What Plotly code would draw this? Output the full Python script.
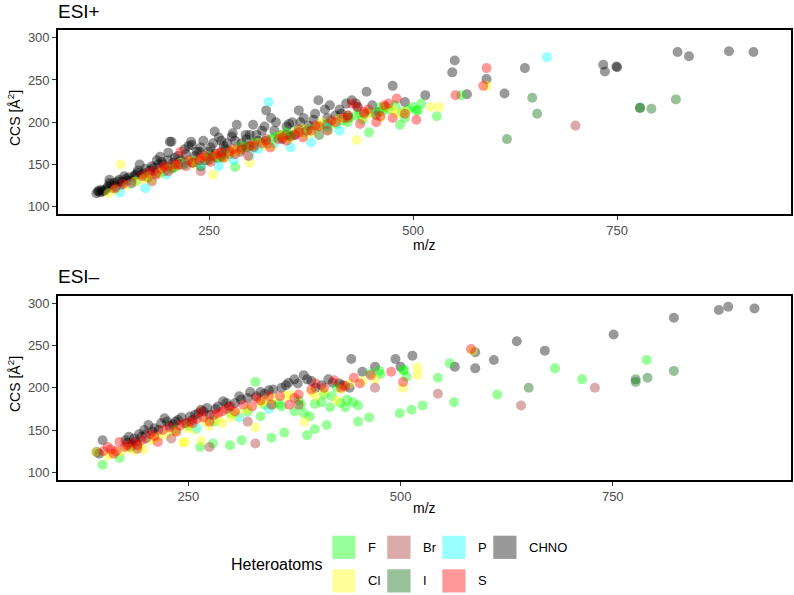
import plotly.graph_objects as go

W, H = 794, 595

# ---------------- data (m/z, CCS) ----------------
CLASSES = ["CHNO", "F", "Cl", "Br", "I", "P", "S"]
COLORS = {"F": "#00FF00", "Cl": "#FFFF00", "Br": "#A52A2A", "I": "#006400",
          "P": "#00FFFF", "S": "#FF0000", "CHNO": "#000000"}
LEGEND_SWATCH = {"F": "#99FF99", "Cl": "#FFFF99", "Br": "#DBAAAA", "I": "#99C199",
                 "P": "#99FFFF", "S": "#FF9999", "CHNO": "#999999"}

# ESI+
pos_chno_mz = [112,115,118,120,124,128,132,138,142,148,152,155,160,165,170,175,178,182,185,186,190,194,195,198,202,205,206,210,215,218,220,225,229,230,233,238,243,245,248,252,258,260,262,268,272,275,278,284,288,290,296,300,304,305,310,315,320,322,326,332,338,340,345,352,355,360,366,372,378,384,392,398,405,412,418,425,432,443,450,458,466,475,490,515,548,551,566,590,612,637,733,735,749,750,824,838,887,917,204,228,257,279,163,128,200,
               114,117,122,126,130,134,136,140,144,146,150,158,162,168,172,180,188,192,200,208,212,222,235,240,250,255,265,270,282,295,308,318,330,348,362,380,395,410,430]
pos_chno_ccs = [116,119,120,118,121,128,122,130,126,133,135,131,138,150,140,135,143,146,140,155,159,150,142,145,177,146,152,148,155,150,168,172,173,152,160,165,178,155,158,170,163,158,182,172,175,162,183,197,165,175,180,185,197,170,178,190,214,175,205,200,185,180,195,200,185,214,205,196,203,226,215,220,208,210,222,226,218,236,220,212,218,243,224,232,259,273,233,251,234,264,268,260,266,265,283,278,284,283,177,177,189,187,143,132,164,
                118,117,119,124,126,128,124,132,130,136,131,136,140,138,145,148,150,153,155,158,160,162,165,170,165,175,178,168,178,185,185,195,190,198,200,210,205,215,222]

pos_s_mz = [135,145,155,168,175,185,192,200,208,215,222,230,238,245,252,260,268,275,282,290,298,305,315,325,335,345,355,365,375,385,395,405,415,425,432,435,445,455,465,475,480,490,504,552,586,590,
            182,195,212,225,240,255,265,280,300,320,340,360,380,400,420,440,460,470]
pos_s_ccs = [122,127,128,136,140,138,145,142,150,165,148,152,155,160,153,162,158,165,162,168,160,172,175,170,180,178,185,182,190,195,190,200,205,222,218,198,215,200,220,205,228,210,203,232,243,264,
             142,148,150,155,158,160,164,168,172,178,182,188,196,202,208,212,207,222]

pos_cl_mz = [127,142,150,160,170,180,190,200,210,218,226,235,245,255,262,270,278,285,293,300,310,318,328,338,348,358,368,378,388,400,420,431,445,460,475,490,522,532,590,
             135,175,195,215,240,260,280,305,325,345,365,385,410,440,465,480]
pos_cl_ccs = [116,150,125,130,133,132,140,145,148,150,154,150,157,138,160,158,163,165,170,152,175,172,172,185,180,190,185,188,200,198,205,179,210,206,215,212,218,218,243,
              120,136,143,152,156,162,167,172,176,182,192,196,204,206,218,210]

pos_f_mz = [160,175,190,205,220,235,248,258,268,276,282,285,294,302,310,318,326,335,342,350,358,366,374,382,390,396,398,406,414,422,430,438,446,446,454,462,470,478,484,486,494,500,504,506,510,529,559,
            200,230,250,265,290,305,330,345,370,395,420,435,460,490]
pos_f_ccs = [130,135,140,145,150,152,155,158,162,165,147,168,170,172,175,178,180,183,185,185,190,188,192,195,196,191,200,198,202,205,208,203,188,212,210,213,215,220,197,212,215,218,214,214,222,207,232,
             146,154,160,158,172,176,182,188,190,196,200,210,218,205]

pos_br_mz = [180,215,240,265,290,320,345,370,395,420,455,699,200,250,305,360,440]
pos_br_ccs = [130,150,142,165,170,180,185,190,198,205,208,196,147,155,175,192,210]

pos_p_mz = [141,172,198,240,262,280,300,323,350,375,410,664,155,220,310,330,395]
pos_p_ccs = [117,122,138,150,148,155,160,224,170,176,190,277,127,150,168,175,194]

pos_i_mz = [240,265,296,385,615,646,652,778,778,792,822,220,350,420]
pos_i_ccs = [148,160,170,185,180,229,210,217,217,216,227,152,183,208]

# ESI-
neg_chno_mz = [142,149,178,182,186,190,195,200,203,208,215,222,228,235,242,248,255,262,268,275,282,291,298,305,312,323,330,340,350,360,368,379,386,390,400,407,420,432,440,442,455,470,494,500,514,564,588,588,610,637,670,751,822,875,886,917,
               145,176,180,184,188,192,198,210,218,225,232,238,252,258,265,272,285,295,310,320,335,345,365,375,395,415,428]
neg_chno_ccs = [124,138,135,130,140,133,142,145,156,148,150,164,155,160,165,158,162,170,172,168,175,184,178,182,186,195,190,193,198,200,206,205,215,210,200,203,206,203,200,234,219,225,234,225,238,225,242,223,233,255,244,263,283,292,296,294,
                122,138,142,132,136,145,150,152,158,160,157,162,166,168,174,176,178,182,190,188,195,197,203,210,208,210,205]

neg_s_mz = [150,159,162,169,175,185,195,205,214,220,228,236,245,252,260,268,275,285,295,305,315,325,335,348,358,369,380,395,410,422,435,452,465,489,503,583,
            155,165,178,190,200,210,240,255,265,280,290,300,330,345,375,400,430,445]
neg_s_ccs = [125,127,122,136,130,135,138,145,136,150,153,148,158,160,163,165,160,170,175,172,180,178,185,180,190,180,192,198,200,209,202,205,215,219,207,246,
             130,125,132,132,140,143,155,158,172,168,172,178,188,190,188,205,200,212]

neg_cl_mz = [141,155,170,187,197,210,225,244,246,258,265,275,290,300,310,320,329,335,350,365,387,395,410,425,440,470,503,520,520,585,
             160,180,192,205,215,235,250,270,285,305,340,370,400,430,455]
neg_cl_ccs = [124,120,125,126,127,140,145,135,136,150,137,155,158,165,170,175,153,182,188,190,160,195,196,185,205,210,200,224,215,244,
              122,128,130,138,142,148,152,160,162,168,185,192,190,198,208]

neg_f_mz = [149,169,235,250,264,279,299,313,329,335,348,350,357,363,375,383,386,390,393,399,399,407,413,417,419,429,435,437,444,450,450,463,464,476,475,499,503,504,507,513,526,544,558,563,614,682,714,790,
            280,300,320,340,360,380,410,425]
neg_f_ccs = [109,117,150,155,130,134,132,138,207,166,141,180,181,147,172,180,170,144,166,151,181,183,156,177,190,182,177,186,183,179,160,165,217,216,220,170,221,221,213,174,179,212,229,183,192,223,210,233,
             160,170,172,180,178,185,192,200]

neg_br_mz = [190,230,275,320,329,380,470,544,642,729]
neg_br_ccs = [128,140,130,160,134,180,200,193,179,200]

neg_p_mz = [200,260,310,345]
neg_p_ccs = [140,152,165,175]

neg_i_mz = [651,777,777,791,822]
neg_i_ccs = [200,210,207,212,220]

POS = {"CHNO": (pos_chno_mz, pos_chno_ccs), "F": (pos_f_mz, pos_f_ccs), "Cl": (pos_cl_mz, pos_cl_ccs),
       "Br": (pos_br_mz, pos_br_ccs), "I": (pos_i_mz, pos_i_ccs), "P": (pos_p_mz, pos_p_ccs),
       "S": (pos_s_mz, pos_s_ccs)}
NEG = {"CHNO": (neg_chno_mz, neg_chno_ccs), "F": (neg_f_mz, neg_f_ccs), "Cl": (neg_cl_mz, neg_cl_ccs),
       "Br": (neg_br_mz, neg_br_ccs), "I": (neg_i_mz, neg_i_ccs), "P": (neg_p_mz, neg_p_ccs),
       "S": (neg_s_mz, neg_s_ccs)}

x_ticks = [250, 500, 750]
y_ticks = [100, 150, 200, 250, 300]
legend_rows = [["F", "Br", "P", "CHNO"], ["Cl", "I", "S"]]

FONT = "Liberation Sans, Arial, Helvetica, sans-serif"

def px(x):
    return x / W

def py(y):
    return 1 - y / H

fig = go.Figure()
for panel, (xa, ya) in [(POS, ("x", "y")), (NEG, ("x2", "y2"))]:
    for cls in CLASSES:
        mz, ccs = panel[cls]
        fig.add_trace(go.Scatter(
            x=mz, y=ccs, mode="markers", xaxis=xa, yaxis=ya, name=cls, showlegend=False,
            marker=dict(size=10, color=COLORS[cls], opacity=0.4, line=dict(width=0)),
        ))

axis_common = dict(showline=True, linecolor="black", linewidth=1.6, mirror=True,
                   ticks="outside", ticklen=4, tickwidth=1, tickcolor="#333333",
                   showgrid=False, zeroline=False,
                   tickfont=dict(family=FONT, size=13, color="#4D4D4D"))

fig.update_layout(
    width=W, height=H, margin=dict(l=0, r=0, t=0, b=0),
    paper_bgcolor="white", plot_bgcolor="white",
    xaxis=dict(domain=[px(58), px(791)], range=[65, 963], tickvals=x_ticks, anchor="y", **axis_common),
    yaxis=dict(domain=[py(214), py(30)], range=[91.4, 309.1], tickvals=y_ticks, anchor="x", **axis_common),
    xaxis2=dict(domain=[px(58), px(791)], range=[96.5, 960], tickvals=x_ticks, anchor="y2", **axis_common),
    yaxis2=dict(domain=[py(480), py(295.7)], range=[90.9, 309], tickvals=y_ticks, anchor="x2", **axis_common),
)

ann = []
def text(x, y, s, size, color="black", xanchor="left", angle=0):
    ann.append(dict(x=px(x), y=py(y), xref="paper", yref="paper", text=s, showarrow=False,
                    xanchor=xanchor, yanchor="middle", textangle=angle,
                    font=dict(family=FONT, size=size, color=color)))

text(56, 11.5, "ESI+", 19)
text(56, 276, "ESI\u2013", 19)
text(424.5, 245, "m/z", 14, xanchor="center")
text(424.5, 508, "m/z", 14, xanchor="center")
text(14, 118, "CCS [Å<sup>2</sup>]", 14, xanchor="center", angle=-90)
text(14, 384, "CCS [Å<sup>2</sup>]", 14, xanchor="center", angle=-90)

# legend (manual)
text(229, 564.5, "Heteroatoms", 16)
col_x = [332.3, 387.3, 442.3, 493.3]
row_y = [535.7, 569.3]
shapes = []
for r, row in enumerate(legend_rows):
    for c, cls in enumerate(row):
        x0, y0 = col_x[c], row_y[r]
        shapes.append(dict(type="rect", xref="paper", yref="paper",
                           x0=px(x0), x1=px(x0 + 23.2), y0=py(y0 + 23.2), y1=py(y0),
                           fillcolor=LEGEND_SWATCH[cls], line=dict(width=0)))
        text(x0 + 33.3, y0 + 11.6, cls, 13)

fig.update_layout(annotations=ann, shapes=shapes)
fig.write_html("out.html")
